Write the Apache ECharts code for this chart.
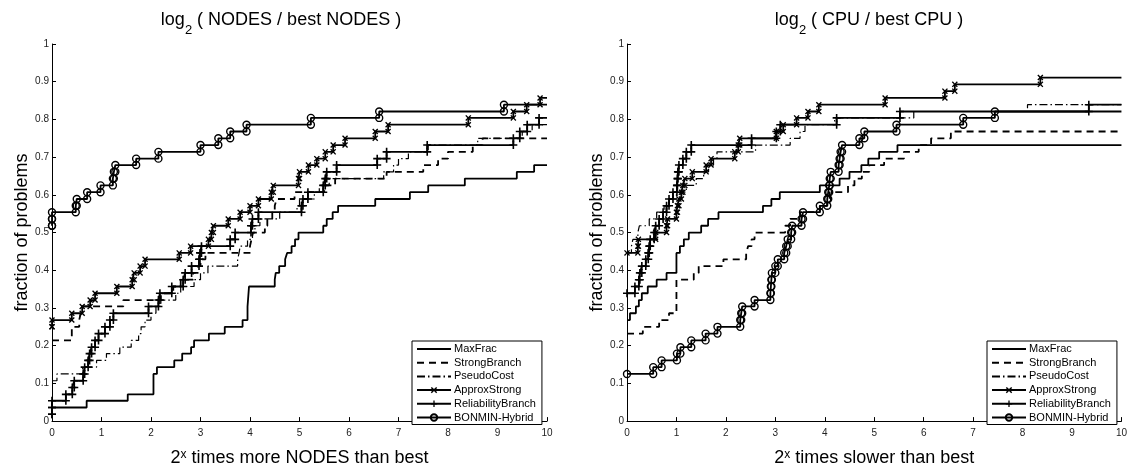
<!DOCTYPE html>
<html><head><meta charset="utf-8">
<script src="https://cdn.jsdelivr.net/npm/echarts@6/dist/echarts.min.js"></script>
<style>html,body{margin:0;padding:0;background:#fff}#chart{width:1130px;height:472px}</style>
</head><body><div id="chart"></div>
<script>
// ---------------- data ----------------
const seriesNames = ['MaxFrac', 'StrongBranch', 'PseudoCost', 'ApproxStrong', 'ReliabilityBranch', 'BONMIN-Hybrid'];
const xMax = 10;

// Left panel: log2(NODES / best NODES)  — [x, fraction] points after each jump
const nodesMaxFrac = [[0,0.036],[0.7,0.054],[1.53,0.071],[2.05,0.125],[2.12,0.143],[2.47,0.161],[2.63,0.179],[2.81,0.196],[2.87,0.214],[3.17,0.232],[3.49,0.25],[3.85,0.268],[3.95,0.304],[3.98,0.357],[4.5,0.375],[4.52,0.393],[4.59,0.411],[4.71,0.429],[4.75,0.446],[4.84,0.464],[4.91,0.482],[4.98,0.5],[5.48,0.518],[5.55,0.536],[5.67,0.554],[5.78,0.571],[6.53,0.589],[7.23,0.607],[7.6,0.625],[8.34,0.643],[9.39,0.661],[9.74,0.679]];
const nodesStrongBranch = [[0,0.214],[0.4,0.25],[0.55,0.268],[0.58,0.286],[0.62,0.304],[1.44,0.321],[2.2,0.339],[2.45,0.357],[2.6,0.375],[2.85,0.393],[2.95,0.411],[3.0,0.429],[3.1,0.446],[4.0,0.464],[4.03,0.482],[4.06,0.5],[4.3,0.518],[4.35,0.536],[4.45,0.554],[4.5,0.571],[4.54,0.589],[4.9,0.607],[5.5,0.625],[5.72,0.643],[6.76,0.661],[7.5,0.679],[7.8,0.696],[8.0,0.714],[8.5,0.732],[8.7,0.75]];
const nodesPseudoCost = [[0,0.107],[0.1,0.125],[0.62,0.143],[0.9,0.161],[1.1,0.179],[1.37,0.196],[1.6,0.214],[1.75,0.232],[1.8,0.25],[1.88,0.268],[2.0,0.286],[2.1,0.304],[2.2,0.321],[2.5,0.339],[2.6,0.357],[2.87,0.375],[3.0,0.393],[3.15,0.411],[3.75,0.429],[3.78,0.446],[3.8,0.464],[3.95,0.482],[4.05,0.5],[4.1,0.518],[4.2,0.536],[4.6,0.554],[4.95,0.571],[5.0,0.589],[5.3,0.607],[5.4,0.625],[5.6,0.643],[6.7,0.661],[6.9,0.679],[7.0,0.696],[7.2,0.714],[7.6,0.732],[8.6,0.75],[9.5,0.768],[9.7,0.786]];
const nodesApproxStrong = [[0,0.25],[0,0.268],[0.4,0.286],[0.61,0.304],[0.77,0.321],[0.87,0.339],[1.31,0.357],[1.62,0.375],[1.66,0.393],[1.78,0.411],[1.88,0.429],[2.57,0.446],[2.8,0.464],[3.16,0.482],[3.22,0.5],[3.26,0.518],[3.56,0.536],[3.8,0.554],[4.0,0.571],[4.17,0.589],[4.43,0.607],[4.47,0.625],[4.98,0.643],[5.0,0.661],[5.18,0.679],[5.35,0.696],[5.52,0.714],[5.68,0.732],[5.92,0.75],[6.53,0.768],[6.79,0.786],[8.41,0.804],[9.32,0.821],[9.59,0.839],[9.86,0.857]];
const nodesReliabilityBranch = [[0,0.018],[0,0.036],[0,0.054],[0.28,0.071],[0.41,0.089],[0.45,0.107],[0.63,0.125],[0.66,0.143],[0.73,0.161],[0.76,0.179],[0.8,0.196],[0.87,0.214],[0.94,0.232],[1.07,0.25],[1.17,0.268],[1.24,0.286],[1.95,0.304],[2.15,0.321],[2.18,0.339],[2.42,0.357],[2.65,0.375],[2.69,0.393],[2.82,0.411],[2.97,0.429],[2.99,0.446],[3.02,0.464],[3.6,0.482],[3.7,0.5],[4.02,0.518],[4.05,0.536],[4.17,0.554],[5.04,0.571],[5.07,0.589],[5.17,0.607],[5.48,0.625],[5.52,0.643],[5.55,0.661],[5.75,0.679],[6.57,0.696],[6.76,0.714],[7.58,0.732],[9.32,0.75],[9.45,0.768],[9.6,0.786],[9.84,0.804]];
const nodesBonmin = [[0,0.518],[0,0.536],[0,0.554],[0.48,0.571],[0.5,0.589],[0.71,0.607],[0.98,0.625],[1.23,0.643],[1.25,0.661],[1.28,0.679],[1.7,0.696],[2.15,0.714],[3.0,0.732],[3.36,0.75],[3.6,0.768],[3.93,0.786],[5.23,0.804],[6.61,0.821],[9.13,0.839]];

// Right panel: log2(CPU / best CPU)
const cpuMaxFrac = [[0,0.268],[0.06,0.286],[0.18,0.304],[0.24,0.321],[0.3,0.339],[0.42,0.357],[0.6,0.375],[0.8,0.393],[1.0,0.446],[1.07,0.464],[1.15,0.482],[1.25,0.5],[1.5,0.518],[1.64,0.536],[1.85,0.554],[2.75,0.571],[2.92,0.589],[3.09,0.607],[3.9,0.625],[4.3,0.643],[4.5,0.661],[4.74,0.679],[4.88,0.696],[5.1,0.714],[5.47,0.732]];
const cpuStrongBranch = [[0,0.232],[0.32,0.25],[0.65,0.268],[0.85,0.286],[1.0,0.375],[1.35,0.393],[1.45,0.411],[1.95,0.429],[2.41,0.446],[2.45,0.464],[2.52,0.482],[2.58,0.5],[3.2,0.518],[3.3,0.536],[3.5,0.554],[3.9,0.571],[4.05,0.589],[4.1,0.607],[4.47,0.625],[4.6,0.643],[4.75,0.661],[4.9,0.679],[5.2,0.696],[5.6,0.714],[5.9,0.732],[6.15,0.75],[6.55,0.768]];
const cpuPseudoCost = [[0,0.446],[0.09,0.464],[0.12,0.482],[0.22,0.5],[0.25,0.518],[0.45,0.536],[0.6,0.554],[0.75,0.571],[0.85,0.589],[1.0,0.607],[1.2,0.625],[1.4,0.643],[1.55,0.661],[1.65,0.679],[1.75,0.696],[1.82,0.714],[2.6,0.732],[3.3,0.75],[3.5,0.768],[3.6,0.786],[4.2,0.804],[5.8,0.821],[8.1,0.839]];
const cpuApproxStrong = [[0,0.446],[0.22,0.464],[0.23,0.482],[0.58,0.5],[0.8,0.518],[0.82,0.536],[1.0,0.554],[1.02,0.571],[1.05,0.589],[1.1,0.607],[1.13,0.625],[1.17,0.643],[1.32,0.661],[1.6,0.679],[1.7,0.696],[2.18,0.714],[2.25,0.732],[2.28,0.75],[3.02,0.768],[3.16,0.786],[3.43,0.804],[3.66,0.821],[3.88,0.839],[5.22,0.857],[6.43,0.875],[6.63,0.893],[8.36,0.911]];
const cpuReliabilityBranch = [[0,0.339],[0.16,0.357],[0.24,0.375],[0.26,0.393],[0.3,0.411],[0.38,0.429],[0.43,0.446],[0.45,0.464],[0.47,0.482],[0.55,0.5],[0.58,0.518],[0.65,0.536],[0.73,0.554],[0.8,0.571],[0.85,0.589],[0.93,0.607],[1.01,0.625],[1.02,0.643],[1.03,0.661],[1.05,0.679],[1.13,0.696],[1.2,0.714],[1.3,0.732],[2.52,0.75],[3.02,0.768],[3.1,0.786],[4.24,0.804],[5.52,0.821],[9.34,0.839]];
const cpuBonmin = [[0,0.125],[0.53,0.143],[0.7,0.161],[1.01,0.179],[1.08,0.196],[1.3,0.214],[1.59,0.232],[1.83,0.25],[2.29,0.268],[2.31,0.286],[2.33,0.304],[2.58,0.321],[2.9,0.339],[2.91,0.357],[2.92,0.375],[2.93,0.393],[3.0,0.411],[3.05,0.429],[3.18,0.446],[3.22,0.464],[3.25,0.482],[3.32,0.5],[3.34,0.518],[3.53,0.536],[3.56,0.554],[3.9,0.571],[4.05,0.589],[4.07,0.607],[4.09,0.625],[4.1,0.643],[4.12,0.661],[4.28,0.679],[4.3,0.696],[4.32,0.714],[4.35,0.732],[4.7,0.75],[4.8,0.768],[5.45,0.786],[6.8,0.804],[7.44,0.821]];

const panelTitles = ['NODES / best NODES', 'CPU / best CPU'];
const xNames = [' times more NODES than best', ' times slower than best'];
const yName = 'fraction of problems';

// ---------------- chart ----------------
const FONT = '"Liberation Sans", Arial, Helvetica, sans-serif';
const X_PATH = 'path://M0,1.6L1.6,0L5,3.4L8.4,0L10,1.6L6.6,5L10,8.4L8.4,10L5,6.6L1.6,10L0,8.4L3.4,5Z';
const PLUS_PATH = 'path://M4,0H6V4H10V6H6V10H4V6H0V4H4Z';

const styles = {
  'MaxFrac': {line: {type: 'solid', width: 1.8}, symbol: 'none'},
  'StrongBranch': {line: {type: [7, 5], width: 1.8}, symbol: 'none'},
  'PseudoCost': {line: {type: [8, 3, 1.5, 3], width: 1.2}, symbol: 'none'},
  'ApproxStrong': {line: {type: 'solid', width: 1.8}, symbol: X_PATH, size: 6, item: {color: '#000'}},
  'ReliabilityBranch': {line: {type: 'solid', width: 1.8}, symbol: PLUS_PATH, size: 8, item: {color: '#000'}},
  'BONMIN-Hybrid': {line: {type: 'solid', width: 1.8}, symbol: 'circle', size: 7, item: {color: 'rgba(0,0,0,0)', borderColor: '#000', borderWidth: 1.4}}
};

function stairs(pts) {
  const out = [];
  pts.forEach((p, i) => {
    if (i > 0) out.push([p[0], pts[i - 1][1]]);
    out.push([p[0], p[1]]);
  });
  const last = pts[pts.length - 1];
  out.push({value: [xMax, last[1]], symbol: 'none'});
  return out;
}

const panels = [
  [nodesMaxFrac, nodesStrongBranch, nodesPseudoCost, nodesApproxStrong, nodesReliabilityBranch, nodesBonmin],
  [cpuMaxFrac, cpuStrongBranch, cpuPseudoCost, cpuApproxStrong, cpuReliabilityBranch, cpuBonmin]
];

const series = [];
panels.forEach((data, gi) => {
  data.forEach((pts, si) => {
    const name = seriesNames[si];
    const st = styles[name];
    series.push({
      name, type: 'line', xAxisIndex: gi, yAxisIndex: gi,
      data: stairs(pts),
      lineStyle: Object.assign({color: '#000'}, st.line),
      itemStyle: Object.assign({color: '#000'}, st.item || {}),
      symbol: st.symbol, symbolSize: st.size || 0,
      showSymbol: st.symbol !== 'none',
      animation: false, silent: true, z: 2 + si
    });
  });
});

const axisLine = {show: true, onZero: false, lineStyle: {color: '#000', width: 1}};
const axisTick = {show: true, inside: true, length: 4, lineStyle: {color: '#000', width: 1}};

function xAxis(gi) {
  return {
    type: 'value', gridIndex: gi, min: 0, max: 10, interval: 1,
    name: '{m|2}{p|x}{m|' + xNames[gi] + '}', nameLocation: 'middle', nameGap: 18,
    nameTextStyle: {fontFamily: FONT, color: '#000', rich: {
      m: {fontSize: 18, fontFamily: FONT, color: '#000', verticalAlign: 'bottom', lineHeight: 18, padding: [6, 0, 0, 0]},
      p: {fontSize: 12, fontFamily: FONT, color: '#000', verticalAlign: 'top', lineHeight: 12}
    }},
    axisLine, axisTick, splitLine: {show: false},
    axisLabel: {color: '#222', fontSize: 10, fontFamily: FONT, margin: 7}
  };
}
function yAxis(gi) {
  return {
    type: 'value', gridIndex: gi, min: 0, max: 1, interval: 0.1,
    name: yName, nameLocation: 'middle', nameGap: 20,
    nameTextStyle: {fontFamily: FONT, fontSize: 18, color: '#000'},
    axisLine, axisTick, splitLine: {show: false},
    axisLabel: {color: '#222', fontSize: 10, fontFamily: FONT, margin: 3}
  };
}

function legend(left) {
  return {
    orient: 'vertical', left: left, top: 341, selectedMode: false,
    data: seriesNames.map(n => styles[n].symbol === 'none'
      ? {name: n, itemStyle: {opacity: 0}}
      : {name: n}),
    borderColor: '#000', borderWidth: 1, padding: [2, 6, 1, 4],
    itemWidth: 34, itemHeight: 8, itemGap: 1.7,
    backgroundColor: '#fff',
    textStyle: {fontFamily: FONT, fontSize: 11, color: '#000', lineHeight: 12, padding: [0, 0, 0, -2]}
  };
}

function title(cx, txt) {
  return {
    left: cx, top: 6, textAlign: 'center',
    text: '{m|log}{s|2}{m| ( ' + txt + ' )}',
    textStyle: {fontFamily: FONT, fontWeight: 'normal', color: '#000', rich: {
      m: {fontSize: 18, fontFamily: FONT, color: '#000', verticalAlign: 'top', lineHeight: 18},
      s: {fontSize: 13, fontFamily: FONT, color: '#000', verticalAlign: 'top', lineHeight: 13, padding: [13, 0, 0, 0]}
    }}
  };
}

const chart = echarts.init(document.getElementById('chart'), null, {renderer: 'canvas'});
chart.setOption({
  backgroundColor: '#fff',
  animation: false,
  title: [title(276, panelTitles[0]), title(864, panelTitles[1])],
  grid: [
    {left: 52, top: 44, width: 495, height: 386, containLabel: false},
    {left: 627, top: 44, width: 495, height: 386, containLabel: false}
  ],
  xAxis: [xAxis(0), xAxis(1)],
  yAxis: [yAxis(0), yAxis(1)],
  legend: [legend(412), legend(987)],
  series
});
</script></body></html>
